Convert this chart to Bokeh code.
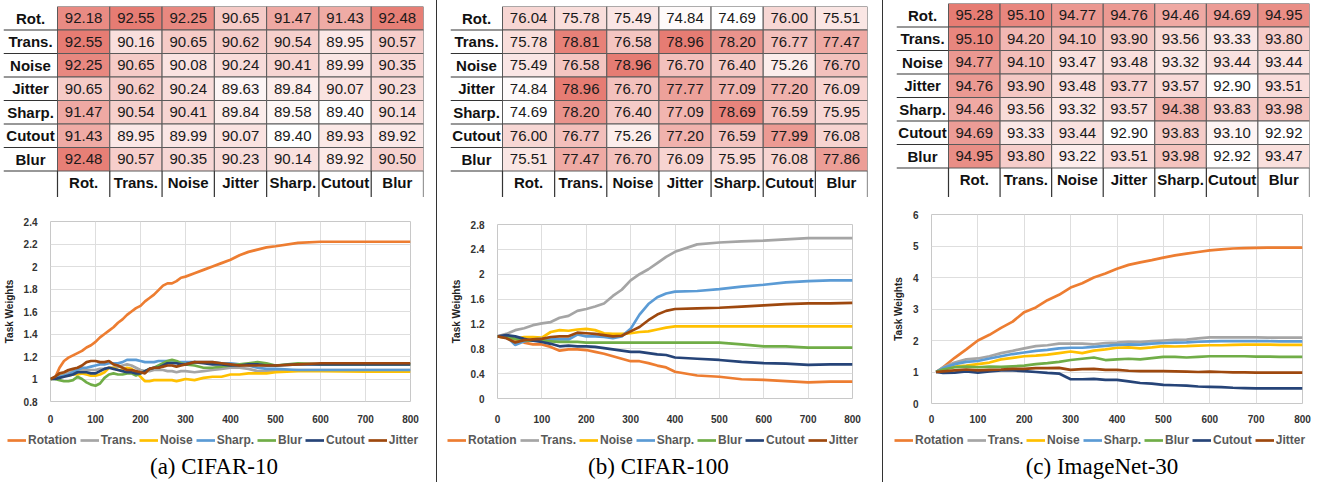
import numpy as np
from bokeh.plotting import figure
from bokeh.models import (Range1d, ColumnDataSource, Legend, LegendItem, Div,
                          FixedTicker, NumeralTickFormatter)
from bokeh.layouts import row, column
from bokeh.embed import file_html
from bokeh.resources import INLINE
from bokeh.core.properties import value

# ---------------- data ----------------
TASKS = ["Rot.", "Trans.", "Noise", "Jitter", "Sharp.", "Cutout", "Blur"]
SERIES = ["Rotation", "Trans.", "Noise", "Sharp.", "Blur", "Cutout", "Jitter"]
COLORS = ["#ED7D31", "#A5A5A5", "#FFC000", "#5B9BD5", "#70AD47", "#264478", "#9E480E"]

HEAT_A = [
    [92.18, 92.55, 92.25, 90.65, 91.47, 91.43, 92.48],
    [92.55, 90.16, 90.65, 90.62, 90.54, 89.95, 90.57],
    [92.25, 90.65, 90.08, 90.24, 90.41, 89.99, 90.35],
    [90.65, 90.62, 90.24, 89.63, 89.84, 90.07, 90.23],
    [91.47, 90.54, 90.41, 89.84, 89.58, 89.40, 90.14],
    [91.43, 89.95, 89.99, 90.07, 89.40, 89.93, 89.92],
    [92.48, 90.57, 90.35, 90.23, 90.14, 89.92, 90.50],
]
HEAT_B = [
    [76.04, 75.78, 75.49, 74.84, 74.69, 76.00, 75.51],
    [75.78, 78.81, 76.58, 78.96, 78.20, 76.77, 77.47],
    [75.49, 76.58, 78.96, 76.70, 76.40, 75.26, 76.70],
    [74.84, 78.96, 76.70, 77.77, 77.09, 77.20, 76.09],
    [74.69, 78.20, 76.40, 77.09, 78.69, 76.59, 75.95],
    [76.00, 76.77, 75.26, 77.20, 76.59, 77.99, 76.08],
    [75.51, 77.47, 76.70, 76.09, 75.95, 76.08, 77.86],
]
HEAT_C = [
    [95.28, 95.10, 94.77, 94.76, 94.46, 94.69, 94.95],
    [95.10, 94.20, 94.10, 93.90, 93.56, 93.33, 93.80],
    [94.77, 94.10, 93.47, 93.48, 93.32, 93.44, 93.44],
    [94.76, 93.90, 93.48, 93.77, 93.57, 92.90, 93.51],
    [94.46, 93.56, 93.32, 93.57, 94.38, 93.83, 93.98],
    [94.69, 93.33, 93.44, 92.90, 93.83, 93.10, 92.92],
    [94.95, 93.80, 93.22, 93.51, 93.98, 92.92, 93.47],
]

# (a) CIFAR-10 task weights
X_A = [0, 10, 20, 30, 40, 50, 60, 70, 80, 90, 100, 110, 120, 130, 140, 150, 160, 170, 180, 190,
       200, 210, 220, 230, 240, 250, 260, 270, 280, 290, 300, 320, 340, 360, 380, 400, 420, 440,
       460, 480, 500, 550, 600, 700, 800]
A_ROTATION = [1.00, 1.01, 1.10, 1.16, 1.19, 1.21, 1.23, 1.25, 1.28, 1.30, 1.33, 1.37, 1.40, 1.43, 1.46,
              1.50, 1.53, 1.57, 1.60, 1.63, 1.65, 1.69, 1.72, 1.75, 1.79, 1.83, 1.85, 1.85, 1.87, 1.90,
              1.91, 1.94, 1.97, 2.00, 2.03, 2.06, 2.10, 2.13, 2.15, 2.17, 2.18, 2.21, 2.22, 2.22, 2.22]
A_TRANS = [1.00, 1.01, 1.04, 1.05, 1.06, 1.07, 1.07, 1.08, 1.08, 1.08, 1.08, 1.09, 1.09, 1.10, 1.10,
           1.11, 1.12, 1.13, 1.12, 1.10, 1.08, 1.07, 1.07, 1.08, 1.08, 1.08, 1.07, 1.07, 1.06, 1.07,
           1.07, 1.06, 1.07, 1.08, 1.09, 1.10, 1.10, 1.09, 1.07, 1.07, 1.07, 1.08, 1.08, 1.08, 1.08]
A_NOISE = [1.00, 1.01, 1.02, 1.03, 1.03, 1.04, 1.04, 1.05, 1.04, 1.03, 1.03, 1.04, 1.06, 1.10, 1.10,
           1.08, 1.08, 1.10, 1.09, 1.06, 1.02, 0.98, 0.98, 0.99, 0.99, 0.99, 0.99, 0.99, 0.98, 0.99,
           1.00, 0.99, 1.01, 1.02, 1.02, 1.04, 1.04, 1.05, 1.05, 1.05, 1.06, 1.07, 1.07, 1.065, 1.065]
A_SHARP = [1.00, 1.01, 1.02, 1.03, 1.04, 1.06, 1.08, 1.10, 1.10, 1.11, 1.12, 1.13, 1.13, 1.14, 1.14,
           1.14, 1.15, 1.17, 1.17, 1.17, 1.16, 1.15, 1.15, 1.15, 1.16, 1.16, 1.16, 1.16, 1.15, 1.15,
           1.15, 1.15, 1.15, 1.15, 1.14, 1.14, 1.13, 1.12, 1.10, 1.09, 1.09, 1.08, 1.08, 1.08, 1.08]
A_BLUR = [1.00, 1.00, 0.99, 0.98, 0.98, 0.99, 1.02, 1.00, 0.97, 0.95, 0.94, 0.96, 1.01, 1.04, 1.05,
          1.04, 1.04, 1.05, 1.05, 1.03, 1.05, 1.07, 1.09, 1.10, 1.12, 1.14, 1.16, 1.17, 1.16, 1.14,
          1.13, 1.12, 1.10, 1.10, 1.11, 1.12, 1.13, 1.14, 1.15, 1.14, 1.12, 1.14, 1.13, 1.13, 1.13]
A_CUTOUT = [1.00, 1.00, 1.01, 1.02, 1.03, 1.04, 1.06, 1.06, 1.06, 1.05, 1.05, 1.07, 1.09, 1.10, 1.09,
            1.08, 1.07, 1.06, 1.06, 1.05, 1.05, 1.07, 1.09, 1.10, 1.10, 1.12, 1.14, 1.14, 1.14, 1.13,
            1.13, 1.15, 1.14, 1.13, 1.13, 1.12, 1.12, 1.13, 1.13, 1.12, 1.12, 1.13, 1.13, 1.13, 1.13]
A_JITTER = [1.00, 1.02, 1.05, 1.06, 1.08, 1.09, 1.10, 1.12, 1.15, 1.16, 1.16, 1.15, 1.15, 1.16, 1.13,
            1.12, 1.10, 1.08, 1.08, 1.07, 1.06, 1.05, 1.09, 1.10, 1.10, 1.11, 1.12, 1.12, 1.11, 1.12,
            1.13, 1.15, 1.15, 1.15, 1.14, 1.13, 1.12, 1.12, 1.12, 1.12, 1.12, 1.13, 1.14, 1.14, 1.14]

# (b) CIFAR-100 task weights
X_B = [0, 20, 40, 60, 80, 100, 120, 140, 160, 180, 200, 220, 240, 260, 280, 300, 320, 340, 360, 380,
       400, 450, 500, 550, 600, 650, 700, 750, 800]
B_ROTATION = [1.00, 0.98, 0.95, 0.90, 0.87, 0.87, 0.83, 0.77, 0.79, 0.79, 0.78, 0.75, 0.72, 0.68, 0.64,
              0.60, 0.60, 0.57, 0.53, 0.50, 0.43, 0.37, 0.35, 0.31, 0.30, 0.28, 0.26, 0.27, 0.27]
B_TRANS = [1.00, 1.04, 1.10, 1.13, 1.18, 1.21, 1.23, 1.30, 1.33, 1.41, 1.44, 1.48, 1.53, 1.65, 1.75,
           1.90, 2.00, 2.08, 2.18, 2.28, 2.36, 2.48, 2.51, 2.53, 2.54, 2.56, 2.58, 2.58, 2.58]
B_NOISE = [1.00, 0.98, 0.96, 0.99, 0.99, 0.98, 1.07, 1.10, 1.09, 1.11, 1.12, 1.10, 1.05, 1.04, 1.04,
           1.05, 1.07, 1.08, 1.11, 1.14, 1.16, 1.16, 1.16, 1.16, 1.16, 1.16, 1.16, 1.16, 1.16]
B_SHARP = [1.00, 1.00, 0.86, 0.92, 0.95, 0.96, 0.95, 0.95, 0.95, 1.03, 1.00, 1.00, 0.99, 0.97, 1.00,
           1.12, 1.35, 1.52, 1.63, 1.69, 1.72, 1.73, 1.76, 1.80, 1.83, 1.87, 1.89, 1.90, 1.90]
B_BLUR = [1.00, 0.99, 0.96, 0.94, 0.93, 0.93, 0.92, 0.91, 0.91, 0.91, 0.90, 0.90, 0.90, 0.90, 0.90,
          0.90, 0.90, 0.90, 0.90, 0.90, 0.90, 0.90, 0.90, 0.87, 0.84, 0.84, 0.82, 0.82, 0.82]
B_CUTOUT = [1.00, 1.02, 1.00, 0.96, 0.93, 0.91, 0.88, 0.84, 0.85, 0.84, 0.84, 0.83, 0.81, 0.79, 0.77,
            0.75, 0.75, 0.73, 0.71, 0.70, 0.66, 0.64, 0.62, 0.59, 0.57, 0.56, 0.54, 0.55, 0.55]
B_JITTER = [1.00, 0.97, 0.90, 0.94, 0.95, 0.96, 0.99, 1.00, 1.00, 1.06, 1.05, 1.04, 1.02, 1.00, 1.01,
            1.08, 1.15, 1.26, 1.35, 1.41, 1.44, 1.45, 1.46, 1.48, 1.50, 1.52, 1.53, 1.53, 1.54]

# (c) ImageNet-30 task weights
X_C = [10, 25, 50, 75, 100, 125, 150, 175, 200, 225, 250, 275, 300, 325, 350, 375, 400, 425, 450,
       475, 500, 525, 550, 575, 600, 625, 650, 675, 700, 725, 750, 775, 800]
C_ROTATION = [1.00, 1.15, 1.45, 1.72, 2.00, 2.18, 2.40, 2.60, 2.90, 3.05, 3.28, 3.45, 3.68, 3.82, 4.00,
              4.13, 4.28, 4.40, 4.48, 4.55, 4.63, 4.70, 4.76, 4.81, 4.86, 4.89, 4.92, 4.93, 4.94, 4.95,
              4.95, 4.95, 4.95]
C_TRANS = [1.00, 1.15, 1.30, 1.40, 1.43, 1.50, 1.60, 1.67, 1.75, 1.82, 1.85, 1.90, 1.90, 1.90, 1.88,
           1.92, 1.93, 1.96, 1.95, 1.98, 2.00, 2.02, 2.03, 2.07, 2.10, 2.10, 2.10, 2.10, 2.10, 2.09,
           2.09, 2.09, 2.09]
C_NOISE = [1.00, 1.08, 1.17, 1.20, 1.25, 1.30, 1.40, 1.45, 1.50, 1.52, 1.55, 1.60, 1.65, 1.60, 1.68,
           1.72, 1.77, 1.78, 1.75, 1.78, 1.82, 1.81, 1.82, 1.84, 1.85, 1.85, 1.86, 1.87, 1.87, 1.87,
           1.86, 1.86, 1.86]
C_SHARP = [1.00, 1.12, 1.25, 1.32, 1.35, 1.43, 1.50, 1.57, 1.62, 1.67, 1.70, 1.75, 1.77, 1.77, 1.80,
           1.83, 1.86, 1.88, 1.87, 1.90, 1.92, 1.93, 1.94, 1.96, 1.97, 1.98, 1.98, 1.98, 1.98, 1.98,
           1.97, 1.97, 1.97]
C_BLUR = [1.00, 1.08, 1.15, 1.17, 1.15, 1.17, 1.16, 1.18, 1.20, 1.25, 1.28, 1.32, 1.38, 1.42, 1.46,
          1.38, 1.40, 1.42, 1.40, 1.44, 1.48, 1.48, 1.46, 1.48, 1.50, 1.50, 1.50, 1.50, 1.49, 1.49,
          1.48, 1.48, 1.48]
C_CUTOUT = [1.00, 0.97, 0.98, 1.02, 0.98, 1.02, 1.05, 1.05, 1.03, 1.00, 0.97, 0.95, 0.77, 0.77, 0.78,
            0.75, 0.75, 0.70, 0.65, 0.63, 0.59, 0.58, 0.57, 0.54, 0.53, 0.52, 0.50, 0.49, 0.48, 0.48,
            0.48, 0.48, 0.48]
C_JITTER = [1.00, 1.02, 1.05, 1.08, 1.05, 1.07, 1.08, 1.10, 1.10, 1.12, 1.12, 1.13, 1.07, 1.09, 1.10,
            1.07, 1.07, 1.04, 1.03, 1.03, 1.03, 1.02, 1.01, 1.00, 1.01, 1.00, 0.99, 0.99, 0.98, 0.98,
            0.98, 0.98, 0.98]

X_TICKS = [0, 100, 200, 300, 400, 500, 600, 700, 800]
Y_TICKS_A = [0.8, 1, 1.2, 1.4, 1.6, 1.8, 2, 2.2, 2.4]
Y_TICKS_B = [0, 0.4, 0.8, 1.2, 1.6, 2, 2.4, 2.8]
Y_TICKS_C = [0, 1, 2, 3, 4, 5, 6]
CAPTIONS = ["(a) CIFAR-10", "(b) CIFAR-100", "(c) ImageNet-30"]

# ---------------- styling helpers ----------------
SANS = "Liberation Sans"
HEAT_H = 197
LINE_H = 228
LEG_H = 24
CAP_H = 33


def blend(t):
    lo = np.array([255, 255, 255], float)
    hi = np.array([0xE6, 0x7C, 0x73], float)
    c = lo + (hi - lo) * t
    return "#%02x%02x%02x" % tuple(int(round(v)) for v in c)


def heatmap(vals, width, left, right, label_px, top):
    frame_w = width - left - right
    cell_px = (frame_w - label_px) / 7.0
    lw = label_px / cell_px
    row_px = 23.5
    y_lo = 7 - (HEAT_H - top) / row_px
    p = figure(width=width, height=HEAT_H, output_backend="svg", toolbar_location=None,
               x_range=Range1d(-lw, 7), y_range=Range1d(y_lo, 7),
               x_axis_location=None, y_axis_location=None, frame_align=False,
               min_border_left=left, min_border_right=right, min_border_top=top,
               min_border_bottom=0)
    p.outline_line_color = None
    p.xgrid.grid_line_color = None
    p.ygrid.grid_line_color = None
    arr = np.array(vals, float)
    vmin, vmax = arr.min(), arr.max()
    xs, ys, cols, txt = [], [], [], []
    for i, r in enumerate(vals):
        for j, v in enumerate(r):
            xs.append(j + 0.5)
            ys.append(6 - i + 0.5)
            cols.append(blend((v - vmin) / (vmax - vmin)))
            txt.append("%.2f" % v)
    src = ColumnDataSource(dict(x=xs, y=ys, c=cols, t=txt))
    p.rect(x="x", y="y", width=1, height=1, source=src, fill_color="c",
           line_color="#5a5a5a", line_width=1)
    p.text(x="x", y="y", text="t", source=src, text_align="center", text_baseline="middle",
           text_font=value(SANS), text_font_size="15px", text_color="#1a1a1a")
    rl = ColumnDataSource(dict(x=[-lw / 2] * 7, y=[6 - i + 0.5 for i in range(7)], t=TASKS))
    p.text(x="x", y="y", text="t", source=rl, text_align="center", text_baseline="middle",
           text_font=value(SANS), text_font_size="15px", text_font_style="bold", text_color="#111111")
    p.segment(x0=[-lw] * 7, x1=[0] * 7, y0=list(range(7)), y1=list(range(7)),
              line_color="#333333", line_width=1.2)
    hl = ColumnDataSource(dict(x=[j + 0.5 for j in range(7)], y=[-0.5] * 7, t=TASKS))
    p.text(x="x", y="y", text="t", source=hl, text_align="center", text_baseline="middle",
           text_font=value(SANS), text_font_size="15px", text_font_style="bold", text_color="#111111")
    p.segment(x0=list(range(8)), x1=list(range(8)), y0=[0] * 8, y1=[y_lo] * 8,
              line_color="#333333", line_width=1.2)
    return p


def linechart(xs, ys_list, yr, yticks, width, left, right, top, bottom, standoff):
    p = figure(width=width, height=LINE_H, output_backend="svg", toolbar_location=None,
               x_range=Range1d(0, 800), y_range=Range1d(*yr), frame_align=False,
               min_border_left=left, min_border_right=right, min_border_top=top,
               min_border_bottom=bottom)
    p.outline_line_color = "#c8c8c8"
    p.xgrid.grid_line_color = "#dedede"
    p.ygrid.grid_line_color = "#dedede"
    p.xaxis.ticker = FixedTicker(ticks=X_TICKS)
    p.yaxis.ticker = FixedTicker(ticks=yticks)
    p.yaxis.formatter = NumeralTickFormatter(format="0.[0]")
    for ax in (p.xaxis, p.yaxis):
        ax.axis_line_color = None
        ax.major_tick_line_color = None
        ax.minor_tick_line_color = None
        ax.major_label_text_font = SANS
        ax.major_label_text_font_style = "bold"
        ax.major_label_text_font_size = "10px"
        ax.major_label_text_color = "#333333"
    p.xaxis.major_label_standoff = standoff
    p.yaxis.major_label_standoff = 7
    p.yaxis.axis_label = "Task Weights"
    p.yaxis.axis_label_text_font = SANS
    p.yaxis.axis_label_text_font_style = "bold"
    p.yaxis.axis_label_text_font_size = "10px"
    p.yaxis.axis_label_text_color = "#222222"
    p.yaxis.axis_label_standoff = 6
    for col, ys in zip(COLORS, ys_list):
        p.line(xs, ys, line_color=col, line_width=2.7)
    return p


def legend_fig(xs, ys_list, width, dx):
    # the legend sits in its own strip under the chart; its items point at the same series
    p = figure(width=width, height=LEG_H, output_backend="svg", toolbar_location=None,
               x_range=Range1d(0, 800), y_range=Range1d(100, 101), frame_align=False,
               x_axis_location=None, y_axis_location=None,
               min_border_left=0, min_border_right=0, min_border_top=0, min_border_bottom=0)
    p.outline_line_color = None
    p.xgrid.grid_line_color = None
    p.ygrid.grid_line_color = None
    rs = []
    for col, ys in zip(COLORS, ys_list):
        rs.append(p.line(xs, ys, line_color=col, line_width=2.7, visible=False))
    items = [LegendItem(label=n, renderers=[r]) for n, r in zip(SERIES, rs)]
    leg = Legend(items=items, orientation="horizontal", location=(dx, 2),
                 label_text_font=SANS, label_text_font_size="12px", label_text_font_style="bold",
                 label_text_color="#595959", glyph_width=19, glyph_height=12, label_standoff=2,
                 spacing=3, padding=3, margin=0, border_line_color=None,
                 background_fill_alpha=0, label_height=12, inactive_fill_alpha=0)
    p.add_layout(leg)
    return p


def caption(text, width, shift):
    pad_l = max(shift, 0) * 2
    pad_r = max(-shift, 0) * 2
    return Div(text=text, width=width, height=CAP_H, margin=0,
               styles={"font-family": "Liberation Serif", "font-size": "23px",
                       "text-align": "center", "line-height": "36px", "color": "black",
                       "padding-left": "%dpx" % pad_l, "padding-right": "%dpx" % pad_r,
                       "box-sizing": "border-box", "white-space": "nowrap"})


SER_A = [A_ROTATION, A_TRANS, A_NOISE, A_SHARP, A_BLUR, A_CUTOUT, A_JITTER]
SER_B = [B_ROTATION, B_TRANS, B_NOISE, B_SHARP, B_BLUR, B_CUTOUT, B_JITTER]
SER_C = [C_ROTATION, C_TRANS, C_NOISE, C_SHARP, C_BLUR, C_CUTOUT, C_JITTER]

W_A, W_B, W_C = 436, 445, 438

hA = heatmap(HEAT_A, W_A, 3, 13, 54, 6)
hB = heatmap(HEAT_B, W_B, 13, 15, 52, 6)
hC = heatmap(HEAT_C, W_C, 13, 12, 52, 3)

lA = linechart(X_A, SER_A, (0.8, 2.4), Y_TICKS_A, W_A, 49, 26, 24, 22, 7)
lB = linechart(X_B, SER_B, (0, 2.8), Y_TICKS_B, W_B, 60, 30, 27, 26, 10)
lC = linechart(X_C, SER_C, (0, 6), Y_TICKS_C, W_C, 48, 19, 17, 20, 5)

gA = legend_fig(X_A, SER_A, W_A, 7)
gB = legend_fig(X_B, SER_B, W_B, 10)
gC = legend_fig(X_C, SER_C, W_C, 11)

cA = caption(CAPTIONS[0], W_A, -4)
cB = caption(CAPTIONS[1], W_B, -1)
cC = caption(CAPTIONS[2], W_C, 0)

TOTAL_H = HEAT_H + LINE_H + LEG_H + CAP_H
sep1 = Div(width=1, height=TOTAL_H, margin=0, styles={"background-color": "#333333"})
sep2 = Div(width=1, height=TOTAL_H, margin=0, styles={"background-color": "#333333"})

layout = row(column(hA, lA, gA, cA), sep1, column(hB, lB, gB, cB), sep2,
             column(hC, lC, gC, cC))

open("out.html", "w").write(file_html(layout, INLINE))
